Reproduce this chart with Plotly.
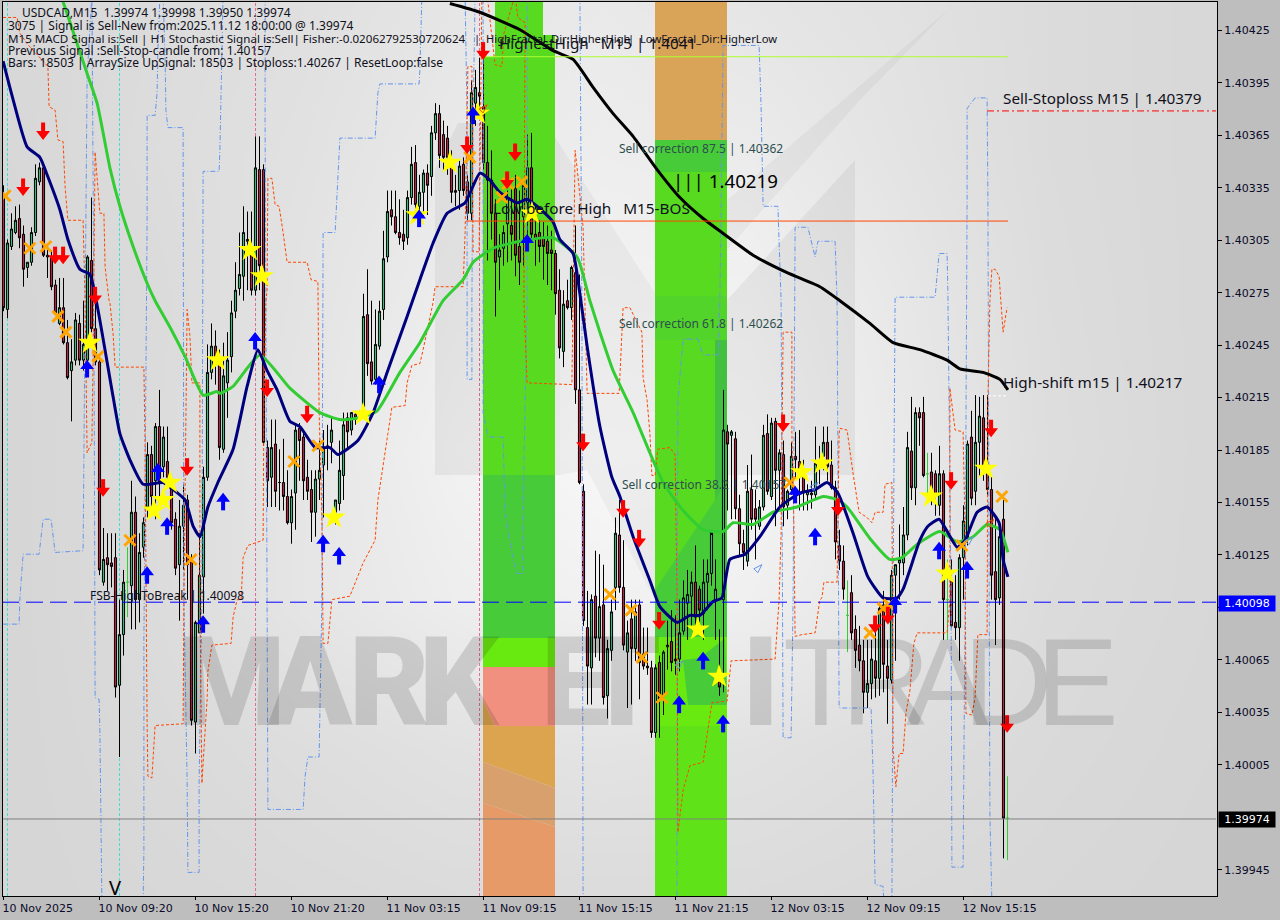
import base64, struct, zlib
import numpy as np
import plotly.graph_objects as go

# ---- price data: every value is points above 1.40000 (1 point = 0.00001) ----
opens = [330,265,301,309,317,308,289,292,309,338,
346,295,295,279,257,266,246,230,236,257,
236,236,293,254,235,109,123,120,123,50,
79,109,107,149,99,129,152,182,167,198,
175,178,163,145,119,141,156,122,29,80,
112,169,229,244,234,185,223,238,264,277,
284,304,301,276,345,345,186,169,188,166,
166,158,143,160,197,192,169,162,149,168,
176,186,189,149,154,170,203,196,205,205,
209,262,235,225,244,265,295,322,318,309,
308,306,329,349,324,332,343,341,366,377,
365,363,349,333,333,348,338,320,383,389,
381,349,339,320,295,300,314,313,334,301,
318,326,346,308,309,306,304,299,297,276,
241,270,266,286,219,161,83,60,101,77,
96,44,70,106,136,106,69,88,71,96,
68,61,60,23,63,44,72,75,65,65,
81,97,101,109,105,91,109,114,99,53,
99,195,193,191,151,131,121,162,151,141,
152,194,158,201,173,182,153,162,181,178,
169,159,160,159,177,181,189,176,163,130,
121,90,103,82,73,64,46,51,64,54,
96,61,53,113,120,120,136,184,163,206,
206,171,172,171,153,171,99,110,86,83,
123,134,192,161,189,203,177,162,115,100,
145,-26]
highs = [336,305,320,324,325,313,292,312,348,349,
349,302,299,282,283,283,259,248,263,262,
270,296,329,270,237,140,137,137,137,99,
116,129,167,158,137,146,189,187,200,219,
198,198,167,149,156,165,159,125,87,137,
175,245,257,253,242,246,252,270,292,309,
324,321,321,364,364,348,190,202,202,185,
191,173,162,199,200,196,179,173,173,190,
196,199,203,156,190,206,206,206,207,207,
274,288,270,265,270,310,333,333,333,328,
322,333,358,359,342,345,348,370,383,382,
373,370,356,342,350,352,342,396,402,409,
408,370,356,328,308,313,333,336,342,333,
339,365,366,325,316,315,313,310,299,288,
276,282,290,313,285,165,104,102,127,125,
119,76,99,146,156,133,87,99,99,99,
83,83,64,62,67,70,87,93,90,99,
110,116,115,130,107,122,122,136,122,82,
219,199,196,195,159,139,176,182,162,156,
199,205,203,203,185,190,162,189,195,196,
179,165,167,198,187,198,198,190,167,139,
130,110,113,90,84,76,76,76,87,96,
104,76,116,119,142,152,195,215,209,209,
215,183,183,173,187,173,122,122,113,125,
153,190,207,216,215,216,216,170,145,139,
156,-2]
lows = [264,260,299,308,300,278,283,290,307,336,
295,283,276,262,256,245,225,201,233,233,
230,233,252,233,113,107,104,106,43,9,
67,89,82,82,86,123,146,152,145,154,
169,163,139,113,87,116,99,27,11,80,
91,167,225,222,179,183,203,229,260,273,
270,276,273,273,276,187,152,152,152,150,
150,142,131,139,167,156,156,132,135,156,
146,173,177,142,150,156,185,193,199,202,
206,227,222,222,242,259,292,313,308,302,
299,302,325,322,321,318,319,330,362,346,
345,342,326,324,322,330,316,316,370,379,
345,293,305,261,276,290,292,293,284,279,
290,299,305,290,292,282,279,276,262,237,
232,265,259,211,165,84,39,39,66,64,
39,31,64,93,103,70,37,39,64,42,
59,56,20,20,20,33,59,58,56,58,
79,76,82,84,82,76,93,107,76,44,
46,150,145,145,124,116,118,139,122,139,
150,159,156,141,150,141,145,159,169,150,
150,150,151,156,165,173,167,162,122,116,
99,69,76,60,58,34,37,42,43,44,
46,28,51,64,99,113,133,156,153,187,
169,156,153,147,147,76,76,83,76,64,
99,130,153,153,170,167,159,99,73,96,
-49,-50]
closes = [266,303,311,316,306,288,292,309,340,346,
296,296,278,263,266,246,226,235,259,236,
245,295,254,235,116,122,119,118,49,79,
109,109,149,99,126,143,182,158,198,166,
192,169,143,117,141,153,119,30,86,113,
169,229,244,234,186,227,236,263,276,285,
309,305,276,346,290,189,167,186,161,166,
158,143,158,196,190,167,161,149,168,173,
185,187,196,156,173,199,195,206,203,206,
261,234,224,245,264,294,321,318,309,306,
304,329,348,325,332,343,336,366,377,353,
352,352,332,332,347,333,320,389,392,387,
349,339,320,292,299,309,329,308,296,292,
336,346,308,305,301,301,297,297,274,243,
268,266,289,219,166,87,61,99,77,95,
43,71,92,137,106,73,80,71,92,63,
61,60,23,60,42,69,73,63,64,80,
100,102,109,89,93,109,114,138,105,49,
196,188,195,151,131,126,161,145,145,152,
193,161,200,173,183,152,161,181,179,169,
160,161,159,177,176,189,175,163,132,121,
105,90,80,70,64,46,51,65,54,94,
62,54,113,119,122,136,186,163,206,203,
170,171,158,158,171,99,99,84,83,123,
144,188,157,189,204,176,162,113,99,135,
-26,-26]
flat_bars = [31, 211, 231, 236, 251]

fast_bar = [-0.1,2.4,5.9,9.1,10.9,14.1,16.1,19.1,21.6,23.6,27.4,29.1,31.6,34.9,39.9,42.4,45.4,47.4,49.1,51.1,53.6,57.4,60.9,63.6,65.9,68.4,71.6,74.1,77.9,81.6,83.6,88.6,92.4,95.9,100.9,104.1,107.4,110.9,115.4,119.1,121.6,124.1,128.4,130.9,134.9,137.4,139.1,142.4,144.1,145.9,149.1,152.1,154.1,157.4,161.6,164.1,168.4,171.6,174.1,177.4,179.6,181.6,185.4,189.1,194.1,199.1,202.9,205.9,208.6,212.4,216.1,219.9,223.4,224.9,229.1,231.1,233.9,238.4,240.4,243.4,245.9,248.9,249.9,251.1]
fast_val = [407,385,358,352,342,322,305,288,285,265,215,194,179,165,166,162,156,141,135,152,166,185,221,242,230,219,201,198,186,186,182,190,206,229,261,282,303,320,326,343,339,332,326,328,321,315,305,297,274,244,198,169,158,135,110,95,86,90,90,98,100,122,125,135,152,160,162,166,160,137,112,100,100,105,133,141,145,129,133,149,152,143,122,112]

slow_bar = [14.9,20.9,23.4,26.6,29.1,32.4,35.9,37.9,41.6,45.4,49.9,53.4,54.1,57.4,64.1,71.6,79.1,84.1,89.1,93.4,99.1,104.1,109.9,114.9,117.4,122.4,129.1,137.4,143.4,146.6,149.1,152.4,157.4,161.6,164.9,169.9,174.9,179.9,182.4,187.4,192.4,198.4,204.9,208.6,210.9,216.6,221.6,224.6,228.6,234.1,238.4,242.4,245.9,249.1,251.1]
slow_val = [441,400,383,346,324,301,280,270,255,238,216,218,217,221,239,220,206,202,203,207,229,246,270,282,292,300,304,306,295,270,252,230,206,183,166,150,139,138,143,142,149,152,158,156,152,134,122,123,131,138,132,135,142,139,126]

long_bar = [111.6,119.1,129.1,137.4,142.4,147.4,152.4,157.4,163.4,169.1,174.9,179.6,187.4,195.9,204.1,209.1,216.6,222.4,229.1,235.9,239.1,244.9,249.1,251.1]
long_val = [440,435,425,413,408,392,377,364,345,329,317,309,296,286,278,270,257,246,242,236,231,229,225,219]

upper_bar = [-0.4,3.9,4.1,4.9,8.9,9.6,9.9,11.9,12.9,19.9,20.9,22.1,22.6,22.9,23.9,24.1,24.6,34.9,35.1,35.1,35.9,35.9,37.9,38.4,38.6,39.1,39.9,40.4,40.6,41.1,44.9,45.1,45.9,46.1,48.9,48.9,49.6,49.9,53.9,54.1,54.6,54.9,65.4,65.4,65.6,65.9,66.1,74.9,75.4,76.1,78.9,79.6,79.9,82.9,84.1,92.9,93.6,94.1,103.9,104.1,104.6,115.4,115.9,115.9,117.1,117.1,117.4,117.9,119.9,119.9,121.1,124.9,125.4,127.4,128.4,129.9,130.1,130.9,130.9,144.1,144.6,144.9,168.4,168.4,168.6,169.9,173.6,174.9,178.6,179.1,179.9,188.9,189.4,189.9,193.6,194.4,194.9,196.9,197.1,197.4,197.9,199.6,201.1,202.9,203.6,207.9,208.4,208.9,209.1,216.9,217.4,217.9,219.9,220.1,222.1,222.4,222.9,232.9,233.9,235.9,236.1,236.9,237.1,239.9,240.1,240.4,240.9,240.9,242.9,245.9,246.1,246.6,247.1]
upper_val = [85,85,100,125,125,137,145,145,126,127,398,445,270,43,42,24,-75,-75,-44,76,316,376,376,389,413,445,445,408,379,369,369,99,-4,-57,-57,-6,99,344,344,356,406,445,445,366,270,57,-21,-21,-2,9,9,99,309,309,363,363,389,394,394,402,445,445,373,225,225,270,373,445,445,206,192,192,149,122,114,114,175,270,445,445,270,-75,-75,68,213,248,248,239,239,270,416,416,381,324,324,270,20,20,55,99,312,312,312,295,304,304,270,38,37,37,-1,-64,-65,-75,-75,99,272,272,297,297,274,99,-54,-54,0,99,328,380,386,386,328,-23,-75]

lower_bar = [-0.1,3.4,4.1,5.9,11.1,11.4,12.9,13.6,14.9,15.4,16.1,19.9,20.4,20.9,22.1,22.4,22.9,23.6,24.1,25.1,25.4,26.4,26.6,27.4,27.9,35.1,35.4,35.9,36.1,37.1,37.9,44.9,45.1,45.9,46.6,47.1,49.1,49.1,49.6,50.1,50.6,50.9,51.1,52.1,56.9,57.4,58.4,59.4,59.9,61.1,64.9,65.1,65.6,65.9,66.1,67.1,67.9,68.9,69.9,70.9,75.9,76.9,78.6,78.9,79.6,79.9,81.1,81.6,82.1,86.6,89.9,92.9,93.6,96.1,97.1,100.4,100.9,102.1,104.1,104.9,107.4,107.9,114.9,115.4,116.1,117.1,117.4,118.9,119.6,120.9,122.9,124.6,125.1,127.9,128.6,130.4,130.1,130.9,142.1,142.9,143.4,144.9,145.4,145.9,153.9,154.6,154.9,156.6,159.6,159.9,160.9,161.6,162.1,162.9,163.6,166.6,167.9,168.4,168.6,169.9,171.6,174.9,176.1,177.1,180.9,181.9,192.9,193.9,194.4,194.9,197.1,197.1,197.6,197.9,199.6,202.9,204.1,204.6,205.1,208.4,208.9,209.1,210.9,211.6,212.4,213.9,215.9,217.1,217.9,219.9,220.4,222.1,222.4,223.1,223.9,224.9,225.6,226.6,227.6,228.4,235.9,236.6,236.6,237.9,239.9,240.4,240.6,242.1,242.9,243.6,245.9,246.1,246.6,247.1,247.9,248.9,249.4,249.9,250.9]
lower_val = [432,432,423,417,404,381,379,362,361,335,316,316,270,183,189,238,355,333,320,320,289,270,269,251,232,232,186,28,-2,-3,27,28,99,265,250,223,223,99,-6,13,28,42,58,73,74,89,99,99,123,130,133,209,270,276,340,340,325,324,309,292,292,282,281,207,146,74,74,89,99,101,120,133,156,194,209,210,223,233,234,242,269,278,278,309,404,404,298,298,445,445,405,404,423,445,432,429,270,223,222,356,346,312,270,217,217,252,266,266,252,226,213,194,170,170,185,186,182,99,-34,-10,4,6,26,40,41,64,65,99,137,252,252,194,143,78,79,80,99,100,109,109,194,197,196,183,171,149,146,143,149,149,165,166,13,-8,11,11,34,47,74,80,80,99,220,196,195,137,34,33,43,79,79,213,270,288,288,284,270,252,266]

sell_arrow_bar = [9.9,4.9,12.9,14.9,22.9,24.9,45.9,65.9,75.9,119.9,115.9,127.9,125.9,144.9,154.9,158.9,163.9,194.9,208.6,236.9,246.9,217.9,221.1,250.9]
sell_arrow_val = [367,335,296,296,273,163,175,220,205,413,359,355,339,189,151,134,87,200,152,167,197,85,90,28]
buy_arrow_bar = [20.9,35.9,38.6,40.9,54.9,49.9,62.9,79.9,83.9,93.9,103.9,117.4,130.9,168.9,174.9,179.9,202.9,197.9,233.9,240.9,222.9]
buy_arrow_val = [231,113,172,141,155,85,247,131,124,222,317,376,303,39,64,28,135,159,127,116,96]
star_bar = [61.6,64.6,21.6,41.6,39.9,37.6,53.6,82.6,89.9,103.4,111.6,118.6,132.1,199.6,204.6,173.6,178.9,231.9,235.9,245.6]
star_val = [299,284,246,166,156,150,236,146,205,319,349,377,320,172,177,82,55,158,114,174]
cross_bar = [0.4,6.6,10.6,13.6,15.6,23.6,31.6,46.9,72.6,78.6,116.6,124.6,126.1,129.6,151.6,156.9,159.6,164.6,196.6,216.6,219.9,221.4,239.6,249.6]
cross_val = [330,300,301,261,252,238,133,122,178,187,352,329,337,338,102,93,66,43,166,80,94,96,130,158]
hollow_bar = [189.6,242.4,169.9,203.6]
hollow_val = [119,135,64,166]
hollow_red_bar = [120.9,247.6]
hollow_red_val = [382,145]

x_tick_bars = [0,24,48,72,96,120,144,168,192,216,240]
x_tick_text = ["10 Nov 2025","10 Nov 09:20","10 Nov 15:20","10 Nov 21:20","11 Nov 03:15","11 Nov 09:15",
               "11 Nov 15:15","11 Nov 21:15","12 Nov 03:15","12 Nov 09:15","12 Nov 15:15"]
y_tick_vals = [425,395,365,335,305,275,245,215,185,155,125,95,65,35,5,-55]

info_lines = ["USDCAD,M15\u00a0\u00a01.39974 1.39998 1.39950 1.39974",
              "3075 | Signal is Sell-New from:2025.11.12 18:00:00 @ 1.39974",
              "M15 MACD Signal is:Sell | H1 Stochastic Signal is:Sell| Fisher:-0.02062792530720624",
              "Previous Signal :Sell-Stop-candle from: 1.40157",
              "Bars: 18503 | ArraySize UpSignal: 18503 | Stoploss:1.40267 | ResetLoop:false"]
fractal_notes = ["|\u00a0\u00a0HighFractal_Dir:HigherHigh", "|\u00a0\u00a0LowFractal_Dir:HigherLow"]

# ---- helpers -------------------------------------------------------------
READ_BIAS = 0.45   # the arrays above were read on a scale half a point low
def price(v):
    return 1.4 + (np.asarray(v, dtype=float) + READ_BIAS) * 1e-5
def level(v):
    return 1.4 + np.asarray(v, dtype=float) * 1e-5
def px_x(p):
    return (p - 3.5) / 4.0
def px_y(p):
    return 1.4 + (442.45 - 0.572 * p) * 1e-5

FONT = "Noto Sans"
PT_PER_PX = 0.572

def background_png():
    cols = np.array([0,150,300,450,600,750,900,1050,1216], float)
    rows = np.array([0,150,300,450,600,750,896], float)
    g = np.array([[0xD8,0xDC,0xE0,0xE6,0xEA,0xE6,0xE2,0xDC,0xD8],
                  [0xD8,0xDD,0xE2,0xEA,0xEE,0xEC,0xE4,0xDC,0xD8],
                  [0xD6,0xDB,0xE4,0xEE,0xF3,0xF2,0xE8,0xDD,0xD8],
                  [0xD6,0xDC,0xE6,0xF2,0xF8,0xF6,0xEA,0xDE,0xD8],
                  [0xD6,0xDC,0xE6,0xEE,0xF2,0xF0,0xE6,0xDC,0xD8],
                  [0xD6,0xDA,0xDE,0xE2,0xE4,0xE2,0xDE,0xDA,0xD7],
                  [0xD6,0xD8,0xDA,0xDC,0xDC,0xDC,0xDA,0xD8,0xD6]], float)
    W, H = 304, 224
    xs = np.linspace(0, 1216, W); ys = np.linspace(0, 896, H)
    tmp = np.array([np.interp(xs, cols, r) for r in g])
    img = np.array([np.interp(ys, rows, tmp[:, j]) for j in range(W)]).T.astype(np.uint8)
    raw = b"".join(b"\x00" + img[r].tobytes() for r in range(H))
    def chunk(t, d):
        return struct.pack(">I", len(d)) + t + d + struct.pack(">I", zlib.crc32(t + d) & 0xffffffff)
    png = (b"\x89PNG\r\n\x1a\n" + chunk(b"IHDR", struct.pack(">IIBBBBB", W, H, 8, 0, 0, 0, 0))
           + chunk(b"IDAT", zlib.compress(raw)) + chunk(b"IEND", b""))
    return "data:image/png;base64," + base64.b64encode(png).decode()

# ---- traces --------------------------------------------------------------
fig = go.Figure()
idx = np.arange(len(opens))
flat = np.isin(idx, flat_bars)
O, H, L, C = map(np.array, (opens, highs, lows, closes))

fig.add_trace(go.Candlestick(
    x=idx[~flat], open=price(O[~flat]), high=price(H[~flat]), low=price(L[~flat]), close=price(C[~flat]),
    increasing=dict(line=dict(color="#000000", width=1), fillcolor="#2FBF7C"),
    decreasing=dict(line=dict(color="#000000", width=1), fillcolor="#BE1E44"),
    whiskerwidth=0, hoverinfo="skip", showlegend=False))
fig.add_trace(go.Candlestick(
    x=idx[flat], open=price(O[flat]), high=price(H[flat]), low=price(L[flat]), close=price(C[flat]),
    increasing=dict(line=dict(color="#32CD32", width=1), fillcolor="#32CD32"),
    decreasing=dict(line=dict(color="#32CD32", width=1), fillcolor="#32CD32"),
    whiskerwidth=0, hoverinfo="skip", showlegend=False))

def line(xs, ys, color, width, dash="solid", smooth=False):
    ln = dict(color=color, width=width, dash=dash)
    if smooth:
        ln.update(shape="spline", smoothing=0.5)
    fig.add_trace(go.Scatter(x=xs, y=ys, mode="lines", hoverinfo="skip", showlegend=False, line=ln))

line(upper_bar, price(upper_val), "#6495ED", 1, "5px,2px,1px,2px")
line(lower_bar, price(lower_val), "#FF4500", 1, "3px,2px")
line(slow_bar, price(slow_val), "#32CD32", 3, smooth=True)
line(long_bar, price(long_val), "#000000", 3, smooth=True)
line(fast_bar, price(fast_val), "#00007F", 3, smooth=True)

# horizontal levels
line([px_x(483), px_x(1008)], level([410, 410]), "#ADFF2F", 1)
line([px_x(466), px_x(1008)], level([316, 316]), "#FF4500", 1)
line([px_x(2), px_x(1216)], level([98, 98]), "#0000FF", 1, "17px,7px")
line([px_x(2), px_x(1216)], level([-26, -26]), "#808080", 1)
line([px_x(987), px_x(1216)], level([379, 379]), "#FF0000", 1, "7px,3px,2px,3px")
line([px_x(988), px_x(1008)], level([216, 216]), "#FFFFFF", 1, "3px,2px")

def markers(xs, ys, symbol, color, size, lw=0):
    fig.add_trace(go.Scatter(x=xs, y=price(ys), mode="markers", hoverinfo="skip", showlegend=False,
                             marker=dict(symbol=symbol, color=color, size=size, line=dict(width=lw, color=color))))

def arrows(xs, ys, direction, color):
    v = np.asarray(ys, dtype=float)
    off = 3 * PT_PER_PX * direction          # head 3 px toward the tip, stem 3 px behind it
    markers(xs, v - off, "line-ns", color, 8, lw=4)
    markers(xs, v + off, "triangle-up" if direction > 0 else "triangle-down", color, 12)

markers(star_bar, star_val, "star", "#FFFF00", 18)
markers(cross_bar, cross_val, "x-thin", "#FFA500", 11, lw=3)
arrows(sell_arrow_bar, sell_arrow_val, -1, "#FF0000")
arrows(buy_arrow_bar, buy_arrow_val, 1, "#0000FF")
fig.add_trace(go.Scatter(x=hollow_bar, y=price(hollow_val), mode="markers", hoverinfo="skip", showlegend=False,
                         marker=dict(symbol="arrow-open", angle=45, size=9, color="#6495ED", line=dict(width=1, color="#6495ED"))))
fig.add_trace(go.Scatter(x=hollow_red_bar, y=price(hollow_red_val), mode="markers", hoverinfo="skip", showlegend=False,
                         marker=dict(symbol="arrow-open", angle=45, size=9, color="#FF4500", line=dict(width=1, color="#FF4500"))))

# ---- shapes: background geometry and coloured zones -----------------------
shapes = []
def poly(pts, fill):
    d = "M" + " L".join(f"{px_x(a)},{px_y(b)}" for a, b in pts) + " Z"
    shapes.append(dict(type="path", path=d, xref="x", yref="y", fillcolor=fill, line=dict(width=0), layer="below"))
def rect(x0, x1, y0, y1, fill):
    poly([(x0, y0), (x1, y0), (x1, y1), (x0, y1)], fill)

poly([(435,475),(435,170),(458,123),(546,123),(560,145),(560,475)], "rgba(0,0,0,0.05)")
poly([(560,145),(655,293),(655,600),(587,470),(560,475)], "rgba(0,0,0,0.035)")
poly([(727,300),(855,160),(855,475),(727,475)], "rgba(0,0,0,0.05)")
poly([(727,200),(950,8),(860,100),(727,250)], "rgba(0,0,0,0.035)")

G1, G2, G3 = "#58DA20", "#48CB38", "#68EA10"
rect(495,543,2,57,G1); rect(543,555,35,57,G1); rect(483,555,57,475,G1)
rect(483,555,475,638,G2); rect(483,555,638,667,G3)
poly([(483,667),(555,667),(555,726),(495,726),(483,700)], "#F2907F")
poly([(483,700),(495,726),(555,726),(555,788),(483,762)], "#DCA44E")
poly([(483,762),(555,788),(555,827),(483,803)], "#D7A06C")
poly([(483,803),(555,827),(555,896),(483,896)], "#E59A67")
rect(655,727,2,140,"#D9A457"); rect(655,727,140,172,G2); rect(655,727,172,296,G1)
rect(655,727,296,340,"#52D42A"); rect(655,727,340,637,G1); rect(715,727,340,500,"#43C040")
poly([(655,590),(715,500),(727,480),(727,637),(655,637)], G2)
rect(655,727,637,726,G3)
poly([(683,660),(700,658),(725,638),(727,705),(688,705)], G2)
rect(655,727,726,896,"#5FE318")

for vx, col in [(7.5,"#40E0D0"),(119.5,"#40E0D0"),(255.5,"#DB7093"),(479.5,"#DB7093")]:
    shapes.append(dict(type="line", xref="x", yref="paper", x0=px_x(vx), x1=px_x(vx), y0=0, y1=1,
                       line=dict(color=col, width=1, dash="3px,2px"), layer="below"))

# ---- annotations ---------------------------------------------------------
ann = []
def label(x, y, text, size, color="#101020", family=FONT, weight=None):
    f = dict(size=size, color=color, family=family)
    if weight:
        f["weight"] = weight
    ann.append(dict(x=px_x(x), y=px_y(y), xref="x", yref="y", text=text, showarrow=False, xanchor="left",
                    yanchor="middle", borderpad=0, font=f))

WM = "rgba(0,0,0,0.13)"
for ch, x in [("M",176),("A",266),("R",348),("K",418),("E",540),("T",582),("I",741)]:
    label(x, 682, ch, 124, WM, "Roboto", 900)
for ch, x in [("T",782),("R",840),("A",905),("D",962),("E",1035)]:
    label(x, 682, ch, 124, WM, "Liberation Sans")

for (x, y, s), t in zip([(21,12,12),(7,25,12),(7,38,11.6),(7,50,12),(7,62,12)], info_lines):
    label(x, y, t, s)
label(473, 38, fractal_notes[0], 11.2)
label(627, 38, fractal_notes[1], 11.2)
label(498, 43, "HighestHigh\u00a0\u00a0\u00a0M15 | 1.4041", 15.3)
label(492, 208, "Low before High\u00a0\u00a0\u00a0M15-BOS", 15.3)
label(618, 148, "Sell correction 87.5 | 1.40362", 12, "#2F4F4F")
label(618, 323, "Sell correction 61.8 | 1.40262", 12, "#2F4F4F")
label(621, 484, "Sell correction 38.2 | 1.40157", 12, "#2F4F4F")
label(672, 180, "||| 1.40219", 18.7, "#000000")
label(1002, 382, "High-shift m15 | 1.40217", 15.3)
label(1002, 98, "Sell-Stoploss M15 | 1.40379", 15.3)
label(89, 595, "FSB-HighToBreak | 1.40098", 12)
label(108, 887, "V", 20, "#000000")

for y, t, bg in [(603, "1.40098", "#0000FF"), (819.5, "1.39974", "#000000")]:
    ann.append(dict(xref="paper", x=(1218-3)/(1217-3), y=px_y(y), yref="y", text=t, showarrow=False, xanchor="left",
                    yanchor="middle", bgcolor=bg, borderpad=0, width=56, height=15, align="center",
                    font=dict(size=11, color="#FFFFFF", family="DejaVu Sans")))

fig.update_layout(
    width=1280, height=920, margin=dict(l=3, r=63, t=2, b=24),
    paper_bgcolor="#BEBEBE", plot_bgcolor="#E4E4E4", showlegend=False, boxgap=0.25,
    shapes=shapes, annotations=ann,
    images=[dict(source=background_png(), xref="paper", yref="paper", x=0, y=1, sizex=1, sizey=1,
                 sizing="stretch", layer="below", xanchor="left", yanchor="top")],
    xaxis=dict(type="linear", range=[px_x(3), px_x(1217)], rangeslider=dict(visible=False), showgrid=False, zeroline=False,
               showline=True, mirror=True, linecolor="#000000", linewidth=1, ticks="outside", ticklen=3, tickcolor="#000000",
               tickvals=x_tick_bars, ticktext=x_tick_text, ticklabelposition="outside right", ticklabelshift=-2,
               ticklabelstandoff=2,
               tickfont=dict(family="DejaVu Sans", size=11, color="#0A0A28")),
    yaxis=dict(side="right", range=[float(px_y(896)), float(px_y(2))], showgrid=False, zeroline=False,
               showline=True, mirror=True, linecolor="#000000", linewidth=1, ticks="outside", ticklen=4, tickcolor="#000000",
               tickvals=[float(level(v)) for v in y_tick_vals], ticktext=[f"{float(level(v)):.5f}" for v in y_tick_vals],
               tickfont=dict(family="DejaVu Sans", size=11, color="#0A0A28")),
)

fig.write_html("out.html", config={"displayModeBar": False},
               post_script="document.body.style.margin='0';document.body.style.overflow='hidden';")
